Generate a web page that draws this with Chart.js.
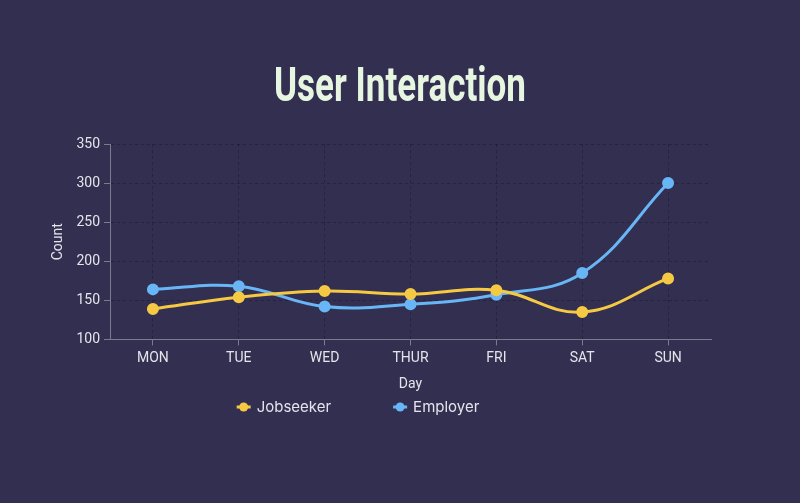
<!DOCTYPE html>
<html>
<head>
<meta charset="utf-8">
<script src="https://cdn.jsdelivr.net/npm/chart.js@4"></script>
<style>
  html, body { margin: 0; padding: 0; background: #332f51; }
  #wrap { width: 800px; height: 503px; }
</style>
</head>
<body>
<div id="wrap"><canvas id="c" width="800" height="503"></canvas></div>
<script>
const days = ['MON', 'TUE', 'WED', 'THUR', 'FRI', 'SAT', 'SUN'];
const jobseeker = [139, 154, 162, 158, 163, 135, 178];
const employer = [164, 168, 142, 145, 157, 185, 300];
const yTicks = { min: 100, max: 350, step: 50 };
const chartTitle = 'User Interaction';

const yellow = '#f6c945';
const blue = '#68b6f5';
const textColor = '#e4e4ea';
const gridColor = 'rgba(20,18,40,0.4)';
const axisColor = '#7c7a8c';

// Condensed title drawn as real text, compressed horizontally
const condensedTitle = {
  id: 'condensedTitle',
  afterDraw(chart, args, opts) {
    const ctx = chart.ctx;
    ctx.save();
    ctx.font = 'bold 48px Roboto, sans-serif';
    ctx.fillStyle = '#e6f6e0';
    ctx.textBaseline = 'alphabetic';
    ctx.textAlign = 'center';
    const w = ctx.measureText(opts.text).width;
    const sx = opts.width / w;
    ctx.translate(chart.width / 2, opts.baseline);
    ctx.scale(sx, 1);
    ctx.fillText(opts.text, 0, 0);
    ctx.restore();
  }
};

const customLegend = {
  id: 'customLegend',
  afterDraw(chart) {
    const ctx = chart.ctx;
    const y = 407;
    const gap = 62;
    ctx.save();
    ctx.font = '15px Inter, "Open Sans", sans-serif';
    const items = chart.data.datasets.map(ds => ({
      text: ds.label, color: ds.borderColor, w: 14 + 6 + ctx.measureText(ds.label).width
    }));
    const total = items.reduce((s, it) => s + it.w, 0) + gap * (items.length - 1);
    let x = 358 - total / 2;
    items.forEach(it => {
      ctx.strokeStyle = it.color;
      ctx.lineWidth = 3;
      ctx.beginPath();
      ctx.moveTo(x, y);
      ctx.lineTo(x + 14, y);
      ctx.stroke();
      ctx.fillStyle = it.color;
      ctx.beginPath();
      ctx.arc(x + 7, y, 4.5, 0, Math.PI * 2);
      ctx.fill();
      ctx.fillStyle = textColor;
      ctx.textBaseline = 'middle';
      ctx.textAlign = 'left';
      ctx.fillText(it.text, x + 20, y);
      x += it.w + gap;
    });
    ctx.restore();
  }
};

new Chart(document.getElementById('c'), {
  type: 'line',
  data: {
    labels: days,
    datasets: [
      { label: 'Jobseeker', data: jobseeker, borderColor: yellow, backgroundColor: yellow,
        pointBackgroundColor: yellow, pointBorderColor: yellow, borderWidth: 3,
        pointRadius: 4.5, tension: 0.4, fill: false },
      { label: 'Employer', data: employer, borderColor: blue, backgroundColor: blue,
        pointBackgroundColor: blue, pointBorderColor: blue, borderWidth: 3,
        pointRadius: 4.5, tension: 0.4, fill: false }
    ]
  },
  options: {
    responsive: false,
    animation: false,
    layout: { padding: { left: 0, right: 89, top: 144, bottom: 106 } },
    plugins: {
      legend: { display: false },
      tooltip: { enabled: false },
      title: { display: false },
      condensedTitle: { text: chartTitle, width: 252, baseline: 101 }
    },
    scales: {
      x: {
        offset: true,
        grid: { color: gridColor, tickColor: axisColor, tickLength: 6 },
        border: { color: axisColor, width: 1, dash: [3, 3] },
        ticks: { color: textColor, font: { family: 'Roboto, sans-serif', size: 14 }, padding: 5 },
        title: { display: true, text: 'Day', color: textColor, font: { family: 'Roboto, sans-serif', size: 14 }, padding: { top: 4, bottom: 4 } }
      },
      y: {
        min: yTicks.min, max: yTicks.max,
        afterFit(scale) { scale.width = 110; },
        grid: { color: gridColor, tickColor: axisColor, tickLength: 6 },
        border: { color: axisColor, width: 1, dash: [3, 3] },
        ticks: { stepSize: yTicks.step, color: textColor, font: { family: 'Roboto, sans-serif', size: 14 }, padding: 4 },
        title: { display: true, text: 'Count', color: textColor, font: { family: 'Roboto, sans-serif', size: 14 }, padding: { top: 50, bottom: 4 } }
      }
    }
  },
  plugins: [condensedTitle, customLegend]
});
</script>
</body>
</html>
